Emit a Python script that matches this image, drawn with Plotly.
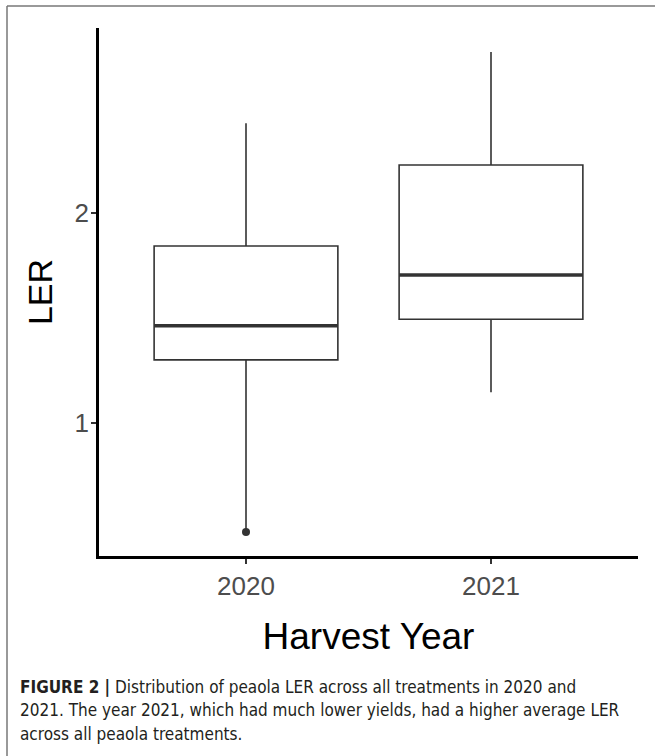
import plotly.graph_objects as go

# ---- data ----
years = ["2020", "2021"]
q1 = [1.301, 1.494]
median = [1.463, 1.704]
q3 = [1.842, 2.227]
lower_whisker = [0.495, 1.147]
upper_whisker = [2.425, 2.764]
outlier_year = ["2020"]
outlier_value = [0.483]
y_ticks = [1, 2]

caption_lines = [
    "<b>FIGURE 2 |</b> Distribution of peaola LER across all treatments in 2020 and",
    "2021. The year 2021, which had much lower yields, had a higher average LER",
    "across all peaola treatments.",
]

W, H = 655, 756
ML, MR, MT, MB = 99, 17, 28, 200
PW, PH = W - ML - MR, H - MT - MB

def px_x(px):
    return (px - ML) / PW

def px_y(py):
    return (H - MB - py) / PH

pos = list(range(len(years)))
box_w = 0.75
dark = "#333333"
sans = "Liberation Sans, Arial, sans-serif"

fig = go.Figure()
fig.add_trace(go.Box(
    x=pos, q1=q1, median=median, q3=q3,
    lowerfence=lower_whisker, upperfence=upper_whisker,
    width=box_w, whiskerwidth=0, boxpoints=False,
    fillcolor="white", line=dict(color=dark, width=1.6),
    showlegend=False, hoverinfo="skip",
))

# thicker median lines (ggplot style)
mx, my = [], []
for p, m in zip(pos, median):
    mx += [p - box_w / 2, p + box_w / 2, None]
    my += [m, m, None]
fig.add_trace(go.Scatter(x=mx, y=my, mode="lines",
                         line=dict(color=dark, width=3.4),
                         showlegend=False, hoverinfo="skip"))

# outlier
fig.add_trace(go.Scatter(
    x=[years.index(y) for y in outlier_year], y=outlier_value,
    mode="markers", marker=dict(color=dark, size=8),
    showlegend=False, hoverinfo="skip"))

axis_common = dict(
    showline=True, linecolor="black", linewidth=2.5,
    ticks="outside", ticklen=5, tickwidth=1.5, tickcolor=dark,
    showgrid=False, zeroline=False,
    tickfont=dict(family=sans, size=26, color="#4d4d4d"),
)

fig.update_xaxes(range=[-0.6, 1.6], tickvals=pos, ticktext=years,
                 title=dict(text="Harvest Year", standoff=24,
                            font=dict(family=sans, size=37, color="black")),
                 **axis_common)
fig.update_yaxes(range=[0.369, 2.878], tickvals=y_ticks, ticklabelstandoff=-3,
                 title=dict(text="LER", standoff=12,
                            font=dict(family=sans, size=34, color="black")),
                 **axis_common)

# caption
cap_y = [687, 710, 734]
for line, cy in zip(caption_lines, cap_y):
    fig.add_annotation(text=line, xref="paper", yref="paper",
                       x=px_x(18), y=px_y(cy), xanchor="left", yanchor="middle",
                       showarrow=False,
                       font=dict(family="DejaVu Sans Condensed, Liberation Sans, sans-serif",
                                 size=17, color="#231f20"))

# figure frame (left and top edges)
fig.add_shape(type="line", xref="paper", yref="paper",
              x0=px_x(7), x1=px_x(7), y0=px_y(6), y1=px_y(760),
              line=dict(color="#777777", width=1.5))
fig.add_shape(type="line", xref="paper", yref="paper",
              x0=px_x(7), x1=px_x(660), y0=px_y(6), y1=px_y(6),
              line=dict(color="#777777", width=1.5))

fig.update_layout(
    width=W, height=H,
    margin=dict(l=ML, r=MR, t=MT, b=MB),
    plot_bgcolor="white", paper_bgcolor="white",
)

fig.write_html("out.html", config={"displayModeBar": False},
               post_script="document.body.style.margin='0';")
